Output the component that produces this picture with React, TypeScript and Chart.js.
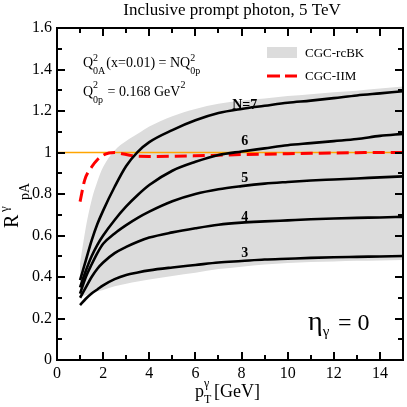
import React, { useEffect, useRef } from "react";
import { Chart, registerables } from "chart.js";

Chart.register(...registerables);

// ---------- data ----------
const ptX = [1, 1.25, 1.5, 1.75, 2, 2.5, 3, 3.5, 4, 5, 6, 7, 8, 9, 10, 11, 12, 13, 14, 15];
const rN7 = [0.385, 0.48, 0.575, 0.655, 0.72, 0.835, 0.935, 1.003, 1.05, 1.108, 1.155, 1.19, 1.21, 1.225, 1.24, 1.25, 1.262, 1.275, 1.285, 1.295];
const rN6 = [0.35, 0.43, 0.5, 0.555, 0.6, 0.675, 0.74, 0.795, 0.843, 0.912, 0.955, 0.988, 1.005, 1.02, 1.035, 1.045, 1.055, 1.065, 1.08, 1.09];
const rN5 = [0.32, 0.4, 0.46, 0.515, 0.56, 0.61, 0.65, 0.685, 0.715, 0.765, 0.8, 0.823, 0.838, 0.85, 0.858, 0.865, 0.87, 0.875, 0.88, 0.885];
const rN4 = [0.3, 0.35, 0.4, 0.44, 0.47, 0.515, 0.545, 0.57, 0.59, 0.615, 0.635, 0.652, 0.662, 0.668, 0.673, 0.678, 0.682, 0.685, 0.687, 0.69];
const rN3 = [0.265, 0.295, 0.32, 0.34, 0.36, 0.39, 0.41, 0.422, 0.432, 0.446, 0.458, 0.47, 0.477, 0.484, 0.488, 0.492, 0.495, 0.497, 0.499, 0.501];
const bandTop = [0.466, 0.64, 0.77, 0.86, 0.93, 1.01, 1.055, 1.09, 1.125, 1.175, 1.21, 1.235, 1.25, 1.26, 1.272, 1.281, 1.29, 1.298, 1.308, 1.318];
const bandBottom = [0.305, 0.312, 0.32, 0.33, 0.337, 0.355, 0.368, 0.378, 0.388, 0.405, 0.42, 0.438, 0.45, 0.46, 0.467, 0.472, 0.475, 0.478, 0.48, 0.482];

const iimX = [1, 1.2, 1.5, 1.75, 2, 2.25, 2.5, 2.75, 3, 3.25, 3.5, 4, 5, 6, 7, 8, 9, 10, 11, 12, 13, 14, 15];
const iimY = [0.763, 0.867, 0.93, 0.965, 0.987, 0.998, 1.0, 0.996, 0.99, 0.985, 0.982, 0.981, 0.982, 0.984, 0.987, 0.99, 0.992, 0.994, 0.996, 0.998, 0.999, 1.0, 1.0];

const refLineX = [0, 15];
const refLineY = [1, 1];

const xTicks = [0, 2, 4, 6, 8, 10, 12, 14];
const yTicks = [0, 0.2, 0.4, 0.6, 0.8, 1, 1.2, 1.4, 1.6];

const curveLabels = ["N=7", "6", "5", "4", "3"];
const curveLabelX = 8.14;
const curveLabelY = [1.229, 1.055, 0.877, 0.689, 0.516];

const titleText = "Inclusive prompt photon, 5 TeV";
const legendBand = "CGC-rcBK";
const legendIIM = "CGC-IIM";

const FONT = "'Liberation Serif', 'Times New Roman', 'DejaVu Serif', serif";

function pts(xs: number[], ys: number[]) {
  return xs.map((x, i) => ({ x, y: ys[i] }));
}

const decor = {
  id: "decor",
  afterDraw(chart: any) {
    const { ctx, chartArea: a, scales } = chart;
    const xs = scales.x;
    const ys = scales.y;
    ctx.save();
    ctx.strokeStyle = "#000";
    ctx.fillStyle = "#000";

    // frame
    ctx.lineWidth = 2;
    ctx.strokeRect(a.left, a.top, a.right - a.left, a.bottom - a.top);

    // inward ticks
    ctx.lineWidth = 2;
    ctx.beginPath();
    for (let v = 0; v <= 15; v++) {
      const px = Math.round(xs.getPixelForValue(v));
      const len = v % 2 === 0 ? 8 : 5;
      ctx.moveTo(px, a.bottom);
      ctx.lineTo(px, a.bottom - len);
      ctx.moveTo(px, a.top);
      ctx.lineTo(px, a.top + len);
    }
    for (let i = 0; i <= 16; i++) {
      const py = Math.round(ys.getPixelForValue(i / 10));
      const len = i % 2 === 0 ? 8 : 5;
      ctx.moveTo(a.left, py);
      ctx.lineTo(a.left + len, py);
      ctx.moveTo(a.right, py);
      ctx.lineTo(a.right - len, py);
    }
    ctx.stroke();

    ctx.textBaseline = "alphabetic";
    // title
    ctx.textAlign = "center";
    ctx.font = `17px ${FONT}`;
    ctx.fillText(titleText, 232, 15);
    ctx.textAlign = "left";

    // x-axis title  p^γ_T [GeV]
    ctx.font = `18px ${FONT}`;
    ctx.fillText("p", 195, 397);
    const pw = ctx.measureText("p").width;
    ctx.font = `12px ${FONT}`;
    ctx.fillText("γ", 195 + pw, 387);
    ctx.fillText("T", 195 + pw, 403);
    ctx.font = `18px ${FONT}`;
    ctx.fillText("[GeV]", 214, 397);

    // y-axis title  R^γ_pA (rotated)
    ctx.save();
    ctx.translate(18, 228);
    ctx.rotate(-Math.PI / 2);
    ctx.font = `20px ${FONT}`;
    ctx.fillText("R", 0, 0);
    ctx.font = `13px ${FONT}`;
    ctx.fillText("γ", 16, -10);
    ctx.font = `14px ${FONT}`;
    ctx.fillText("pA", 28, 11);
    ctx.restore();

    // annotations
    const drawQ = (x0: number, base: number, sup: number, sub: number, supT: string, subT: string) => {
      ctx.font = `14px ${FONT}`;
      ctx.fillText("Q", x0, base);
      const qw = ctx.measureText("Q").width;
      ctx.font = `10px ${FONT}`;
      ctx.fillText(supT, x0 + qw, sup);
      ctx.fillText(subT, x0 + qw, sub);
      const w = Math.max(ctx.measureText(supT).width, ctx.measureText(subT).width);
      return x0 + qw + w + 1;
    };
    let cx = drawQ(83, 67, 61, 74, "2", "0A");
    ctx.font = `14px ${FONT}`;
    ctx.fillText("(x=0.01) = N", cx, 67);
    cx += ctx.measureText("(x=0.01) = N").width;
    drawQ(cx, 67, 61, 74, "2", "0p");

    cx = drawQ(83, 96, 88, 103, "2", "0p");
    ctx.font = `14px ${FONT}`;
    ctx.fillText(" = 0.168 GeV", cx, 96);
    cx += ctx.measureText(" = 0.168 GeV").width;
    ctx.font = `10px ${FONT}`;
    ctx.fillText("2", cx, 88);

    // legend
    ctx.fillStyle = "#dcdcdc";
    ctx.fillRect(267, 47, 30, 11);
    ctx.fillStyle = "#000";
    ctx.font = `13px ${FONT}`;
    ctx.fillText(legendBand, 305, 57);
    ctx.fillText(legendIIM, 305, 80);
    ctx.save();
    ctx.strokeStyle = "#ff0000";
    ctx.lineWidth = 3;
    ctx.setLineDash([13, 5]);
    ctx.beginPath();
    ctx.moveTo(267, 76);
    ctx.lineTo(297, 76);
    ctx.stroke();
    ctx.restore();

    // curve labels
    ctx.textAlign = "center";
    ctx.textBaseline = "middle";
    ctx.font = `bold 14px ${FONT}`;
    curveLabels.forEach((t, i) => {
      ctx.fillText(t, xs.getPixelForValue(curveLabelX), ys.getPixelForValue(curveLabelY[i]));
    });

    // eta annotation
    ctx.textAlign = "left";
    ctx.textBaseline = "alphabetic";
    ctx.font = `28px ${FONT}`;
    ctx.fillText("η", 308, 330);
    const ew = ctx.measureText("η").width;
    ctx.font = `15px ${FONT}`;
    ctx.fillText("γ", 308 + ew, 336);
    ctx.font = `24px ${FONT}`;
    ctx.fillText("= 0", 338, 330);

    ctx.restore();
  },
};

export default function App() {
  const ref = useRef<HTMLCanvasElement | null>(null);

  useEffect(() => {
    if (!ref.current) return;
    const black = (ys: number[]) => ({
      data: pts(ptX, ys),
      borderColor: "#000",
      borderWidth: 2.6,
      pointRadius: 0,
      cubicInterpolationMode: "monotone" as const,
      fill: false,
    });
    const chart = new Chart(ref.current, {
      type: "line",
      data: {
        datasets: [
          black(rN7),
          black(rN6),
          black(rN5),
          black(rN4),
          black(rN3),
          {
            data: pts(iimX, iimY),
            borderColor: "#ff0000",
            borderWidth: 3,
            borderDash: [12, 6],
            pointRadius: 0,
            cubicInterpolationMode: "monotone" as const,
            fill: false,
          },
          {
            data: pts(refLineX, refLineY),
            borderColor: "#ffa500",
            borderWidth: 1.5,
            pointRadius: 0,
            fill: false,
          },
          {
            data: pts(ptX, bandTop),
            borderWidth: 0,
            borderColor: "rgba(0,0,0,0)",
            backgroundColor: "#dcdcdc",
            pointRadius: 0,
            cubicInterpolationMode: "monotone" as const,
            fill: "+1",
          },
          {
            data: pts(ptX, bandBottom),
            borderWidth: 0,
            borderColor: "rgba(0,0,0,0)",
            pointRadius: 0,
            cubicInterpolationMode: "monotone" as const,
            fill: false,
          },
        ] as any,
      },
      options: {
        responsive: false,
        animation: false,
        layout: { padding: { top: 28, right: 4, left: 0, bottom: 0 } },
        plugins: {
          legend: { display: false },
          tooltip: { enabled: false },
          title: { display: false },
        },
        scales: {
          x: {
            type: "linear",
            min: 0,
            max: 15,
            grid: { display: false, drawTicks: false },
            border: { display: false },
            afterBuildTicks: (s: any) => {
              s.ticks = xTicks.map((v) => ({ value: v }));
            },
            afterFit: (s: any) => {
              s.height = 47;
            },
            ticks: {
              padding: 4,
              color: "#000",
              maxRotation: 0,
              autoSkip: false,
              font: { family: FONT, size: 16 },
              callback: (v: any) => String(Math.round(Number(v) * 10) / 10),
            },
          },
          y: {
            type: "linear",
            min: 0,
            max: 1.6,
            grid: { display: false, drawTicks: false },
            border: { display: false },
            afterBuildTicks: (s: any) => {
              s.ticks = yTicks.map((v) => ({ value: v }));
            },
            afterFit: (s: any) => {
              s.width = 57;
            },
            ticks: {
              padding: 5,
              color: "#000",
              autoSkip: false,
              font: { family: FONT, size: 16 },
              callback: (v: any) => String(Math.round(Number(v) * 10) / 10),
            },
          },
        },
      } as any,
      plugins: [decor],
    });
    return () => chart.destroy();
  }, []);

  return (
    <div style={{ position: "absolute", left: 0, top: 0, width: 407, height: 407, background: "#fff" }}>
      <canvas ref={ref} width={407} height={407} />
    </div>
  );
}
